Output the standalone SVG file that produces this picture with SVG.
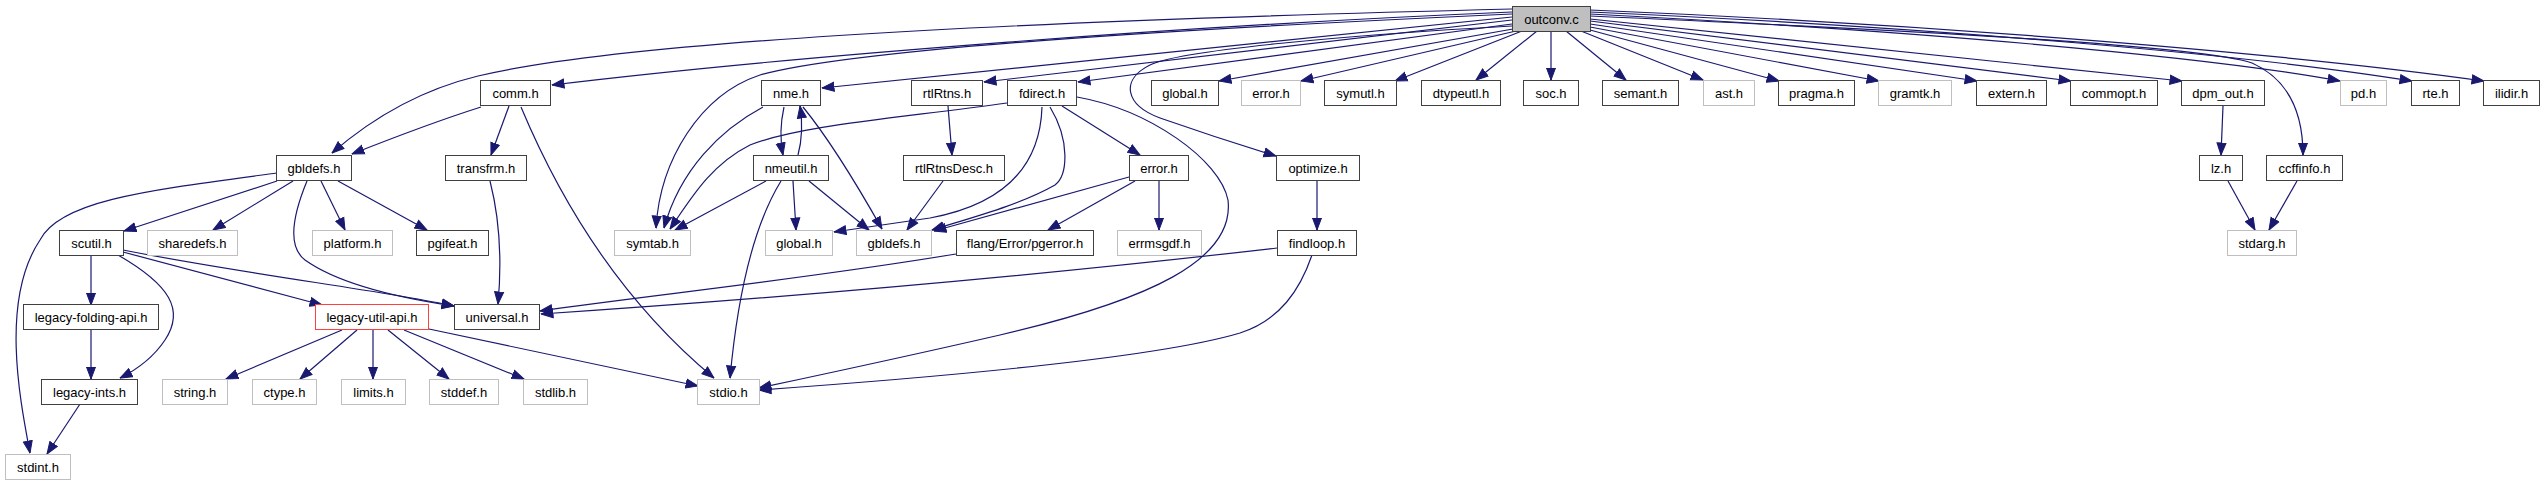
<svg xmlns="http://www.w3.org/2000/svg" width="2545" height="485" viewBox="0 0 2545 485">
<style>
rect{stroke-width:1}
.n rect{fill:#fff;stroke:#404040}
.g rect{fill:#fff;stroke:#bfbfbf}
.r rect{fill:#fff;stroke:#ff4040}
.root rect{fill:#bfbfbf;stroke:#404040}
text{font-family:"Liberation Sans",Arial,Helvetica,sans-serif;font-size:13px;fill:#000;text-anchor:middle}
#edges path{fill:none;stroke:#191970;stroke-width:1.2;marker-end:url(#ah)}
</style>
<defs>
<marker id="ah" markerWidth="13" markerHeight="11" refX="12.5" refY="5.5" orient="auto" markerUnits="userSpaceOnUse">
<path d="M0.5,1 L12.5,5.5 L0.5,10 z" fill="#191970" stroke="#191970" stroke-width="1"/>
</marker>
</defs>
<rect width="2545" height="485" fill="#fff"/>
<g id="edges">
<path d="M1512,9 C1150,18 650,35 478,76 C420,90 370,120 332,153"/>
<path d="M1512,12 C1200,25 800,55 552,85"/>
<path d="M1512,14 C1150,30 850,50 760,75 C700,95 660,160 656,228"/>
<path d="M1512,17 L822,88"/>
<path d="M1512,20 L984,82"/>
<path d="M1512,24 L1078,82"/>
<path d="M1512,26 C1350,35 1180,50 1150,65 C1120,80 1125,105 1160,118 C1200,132 1240,145 1276,156"/>
<path d="M1513,29 L1219,81"/>
<path d="M1516,31 L1301,81"/>
<path d="M1522,31 L1395,81"/>
<path d="M1537,31 L1476,80"/>
<path d="M1551,31 L1551,80"/>
<path d="M1566,31 L1626,80"/>
<path d="M1581,31 L1703,80"/>
<path d="M1590,30 L1779,81"/>
<path d="M1590,27 L1879,81"/>
<path d="M1590,24 L1977,81"/>
<path d="M1590,21 L2071,81"/>
<path d="M1590,19 L2182,81"/>
<path d="M1590,16 C1900,30 2200,45 2252,63 C2290,80 2303,115 2303,155"/>
<path d="M1590,14 C1900,30 2200,55 2340,81"/>
<path d="M1590,12 C1950,28 2250,55 2412,81"/>
<path d="M1590,10 C1950,25 2300,55 2484,81"/>
<path d="M481,107 C440,120 400,135 352,154"/>
<path d="M509,106 L491,155"/>
<path d="M521,107 C560,200 620,300 714,378"/>
<path d="M490,181 C500,220 502,260 498,304"/>
<path d="M277,173 C150,190 60,200 40,240 C0,300 20,400 30,453"/>
<path d="M277,181 L124,231"/>
<path d="M293,181 L213,230"/>
<path d="M307,181 C295,210 285,245 305,260 C340,285 400,298 454,306"/>
<path d="M321,181 L345,230"/>
<path d="M338,181 L427,230"/>
<path d="M91,255 L91,305"/>
<path d="M118,255 C170,285 185,310 165,340 C155,355 140,368 120,378"/>
<path d="M123,252 L322,305"/>
<path d="M123,250 C250,275 380,290 454,306"/>
<path d="M91,330 L91,379"/>
<path d="M80,404 L47,454"/>
<path d="M342,330 L226,379"/>
<path d="M357,330 L300,379"/>
<path d="M373,330 L373,379"/>
<path d="M388,330 L449,379"/>
<path d="M404,330 L524,379"/>
<path d="M429,329 L698,386"/>
<path d="M763,107 C720,130 680,170 664,228"/>
<path d="M784,107 C780,125 780,140 783,155"/>
<path d="M798,155 C802,140 803,125 800,106"/>
<path d="M803,107 C830,140 860,190 882,229"/>
<path d="M766,181 L675,230"/>
<path d="M793,181 L796,230"/>
<path d="M809,181 L869,230"/>
<path d="M781,181 C760,215 740,270 730,378"/>
<path d="M1007,103 C900,118 800,125 750,145 C710,165 690,200 670,229"/>
<path d="M1042,107 C1040,170 1000,205 930,218 C890,224 860,228 834,232"/>
<path d="M1050,107 C1070,140 1068,175 1055,185 C1020,205 970,218 932,230"/>
<path d="M1062,106 L1140,155"/>
<path d="M1077,97 C1150,110 1220,160 1228,200 C1235,260 1150,300 1000,335 C900,358 820,375 759,388"/>
<path d="M948,106 L952,155"/>
<path d="M943,181 L907,230"/>
<path d="M1129,177 L934,231"/>
<path d="M1135,181 L1048,230"/>
<path d="M1159,181 L1159,230"/>
<path d="M956,254 C800,280 650,295 540,311"/>
<path d="M1277,248 C1000,280 750,300 541,314"/>
<path d="M1312,255 C1300,290 1280,320 1240,333 C1150,360 900,380 759,390"/>
<path d="M1317,181 L1317,230"/>
<path d="M2223,106 L2221,155"/>
<path d="M2228,181 L2255,230"/>
<path d="M2297,181 L2269,230"/>
</g>
<g id="node-outconv" class="root"><rect x="1512.5" y="6.5" width="78" height="25"/><text x="1551.5" y="23.5">outconv.c</text></g>
<g id="node-comm" class="n"><rect x="480.5" y="80.5" width="70" height="25"/><text x="515.5" y="97.5">comm.h</text></g>
<g id="node-nme" class="n"><rect x="761.5" y="80.5" width="59" height="25"/><text x="791" y="97.5">nme.h</text></g>
<g id="node-rtlRtns" class="n"><rect x="911.5" y="80.5" width="71" height="25"/><text x="947" y="97.5">rtlRtns.h</text></g>
<g id="node-fdirect" class="n"><rect x="1007.5" y="80.5" width="69" height="25"/><text x="1042" y="97.5">fdirect.h</text></g>
<g id="node-global1" class="n"><rect x="1151.5" y="80.5" width="67" height="25"/><text x="1185" y="97.5">global.h</text></g>
<g id="node-error1" class="g"><rect x="1241.5" y="80.5" width="59" height="25"/><text x="1271" y="97.5">error.h</text></g>
<g id="node-symutl" class="n"><rect x="1324.5" y="80.5" width="72" height="25"/><text x="1360.5" y="97.5">symutl.h</text></g>
<g id="node-dtypeutl" class="n"><rect x="1421.5" y="80.5" width="79" height="25"/><text x="1461" y="97.5">dtypeutl.h</text></g>
<g id="node-soc" class="n"><rect x="1523.5" y="80.5" width="55" height="25"/><text x="1551" y="97.5">soc.h</text></g>
<g id="node-semant" class="n"><rect x="1602.5" y="80.5" width="76" height="25"/><text x="1640.5" y="97.5">semant.h</text></g>
<g id="node-ast" class="g"><rect x="1703.5" y="80.5" width="51" height="25"/><text x="1729" y="97.5">ast.h</text></g>
<g id="node-pragma" class="n"><rect x="1778.5" y="80.5" width="76" height="25"/><text x="1816.5" y="97.5">pragma.h</text></g>
<g id="node-gramtk" class="g"><rect x="1878.5" y="80.5" width="73" height="25"/><text x="1915" y="97.5">gramtk.h</text></g>
<g id="node-extern" class="n"><rect x="1976.5" y="80.5" width="70" height="25"/><text x="2011.5" y="97.5">extern.h</text></g>
<g id="node-commopt" class="n"><rect x="2070.5" y="80.5" width="87" height="25"/><text x="2114" y="97.5">commopt.h</text></g>
<g id="node-dpm_out" class="n"><rect x="2181.5" y="80.5" width="83" height="25"/><text x="2223" y="97.5">dpm_out.h</text></g>
<g id="node-pd" class="g"><rect x="2340.5" y="80.5" width="46" height="25"/><text x="2363.5" y="97.5">pd.h</text></g>
<g id="node-rte" class="n"><rect x="2411.5" y="80.5" width="48" height="25"/><text x="2435.5" y="97.5">rte.h</text></g>
<g id="node-ilidir" class="n"><rect x="2483.5" y="80.5" width="56" height="25"/><text x="2511.5" y="97.5">ilidir.h</text></g>
<g id="node-gbldefs1" class="n"><rect x="276.5" y="155.5" width="75" height="25"/><text x="314" y="172.5">gbldefs.h</text></g>
<g id="node-transfrm" class="n"><rect x="445.5" y="155.5" width="81" height="25"/><text x="486" y="172.5">transfrm.h</text></g>
<g id="node-nmeutil" class="n"><rect x="753.5" y="155.5" width="75" height="25"/><text x="791" y="172.5">nmeutil.h</text></g>
<g id="node-rtlRtnsDesc" class="n"><rect x="903.5" y="155.5" width="101" height="25"/><text x="954" y="172.5">rtlRtnsDesc.h</text></g>
<g id="node-error2" class="n"><rect x="1129.5" y="155.5" width="59" height="25"/><text x="1159" y="172.5">error.h</text></g>
<g id="node-optimize" class="n"><rect x="1276.5" y="155.5" width="83" height="25"/><text x="1318" y="172.5">optimize.h</text></g>
<g id="node-lz" class="n"><rect x="2199.5" y="155.5" width="43" height="25"/><text x="2221" y="172.5">lz.h</text></g>
<g id="node-ccffinfo" class="n"><rect x="2266.5" y="155.5" width="76" height="25"/><text x="2304.5" y="172.5">ccffinfo.h</text></g>
<g id="node-scutil" class="n"><rect x="59.5" y="230.5" width="64" height="25"/><text x="91.5" y="247.5">scutil.h</text></g>
<g id="node-sharedefs" class="g"><rect x="147.5" y="230.5" width="90" height="25"/><text x="192.5" y="247.5">sharedefs.h</text></g>
<g id="node-platform" class="g"><rect x="312.5" y="230.5" width="80" height="25"/><text x="352.5" y="247.5">platform.h</text></g>
<g id="node-pgifeat" class="n"><rect x="416.5" y="230.5" width="72" height="25"/><text x="452.5" y="247.5">pgifeat.h</text></g>
<g id="node-symtab" class="g"><rect x="614.5" y="230.5" width="76" height="25"/><text x="652.5" y="247.5">symtab.h</text></g>
<g id="node-global2" class="g"><rect x="765.5" y="230.5" width="67" height="25"/><text x="799" y="247.5">global.h</text></g>
<g id="node-gbldefs2" class="g"><rect x="856.5" y="230.5" width="75" height="25"/><text x="894" y="247.5">gbldefs.h</text></g>
<g id="node-pgerror" class="n"><rect x="956.5" y="230.5" width="137" height="25"/><text x="1025" y="247.5">flang/Error/pgerror.h</text></g>
<g id="node-errmsgdf" class="g"><rect x="1117.5" y="230.5" width="84" height="25"/><text x="1159.5" y="247.5">errmsgdf.h</text></g>
<g id="node-findloop" class="n"><rect x="1277.5" y="230.5" width="79" height="25"/><text x="1317" y="247.5">findloop.h</text></g>
<g id="node-stdarg" class="g"><rect x="2227.5" y="230.5" width="69" height="25"/><text x="2262" y="247.5">stdarg.h</text></g>
<g id="node-legacy-folding-api" class="n"><rect x="23.5" y="304.5" width="135" height="25"/><text x="91" y="321.5">legacy-folding-api.h</text></g>
<g id="node-legacy-util-api" class="r"><rect x="315.5" y="304.5" width="113" height="25"/><text x="372" y="321.5">legacy-util-api.h</text></g>
<g id="node-universal" class="n"><rect x="454.5" y="304.5" width="85" height="25"/><text x="497" y="321.5">universal.h</text></g>
<g id="node-legacy-ints" class="n"><rect x="41.5" y="379.5" width="96" height="25"/><text x="89.5" y="396.5">legacy-ints.h</text></g>
<g id="node-string" class="g"><rect x="162.5" y="379.5" width="65" height="25"/><text x="195" y="396.5">string.h</text></g>
<g id="node-ctype" class="g"><rect x="252.5" y="379.5" width="64" height="25"/><text x="284.5" y="396.5">ctype.h</text></g>
<g id="node-limits" class="g"><rect x="341.5" y="379.5" width="64" height="25"/><text x="373.5" y="396.5">limits.h</text></g>
<g id="node-stddef" class="g"><rect x="429.5" y="379.5" width="69" height="25"/><text x="464" y="396.5">stddef.h</text></g>
<g id="node-stdlib" class="g"><rect x="523.5" y="379.5" width="64" height="25"/><text x="555.5" y="396.5">stdlib.h</text></g>
<g id="node-stdio" class="g"><rect x="697.5" y="379.5" width="62" height="25"/><text x="728.5" y="396.5">stdio.h</text></g>
<g id="node-stdint" class="g"><rect x="5.5" y="454.5" width="65" height="25"/><text x="38" y="471.5">stdint.h</text></g>
</svg>
